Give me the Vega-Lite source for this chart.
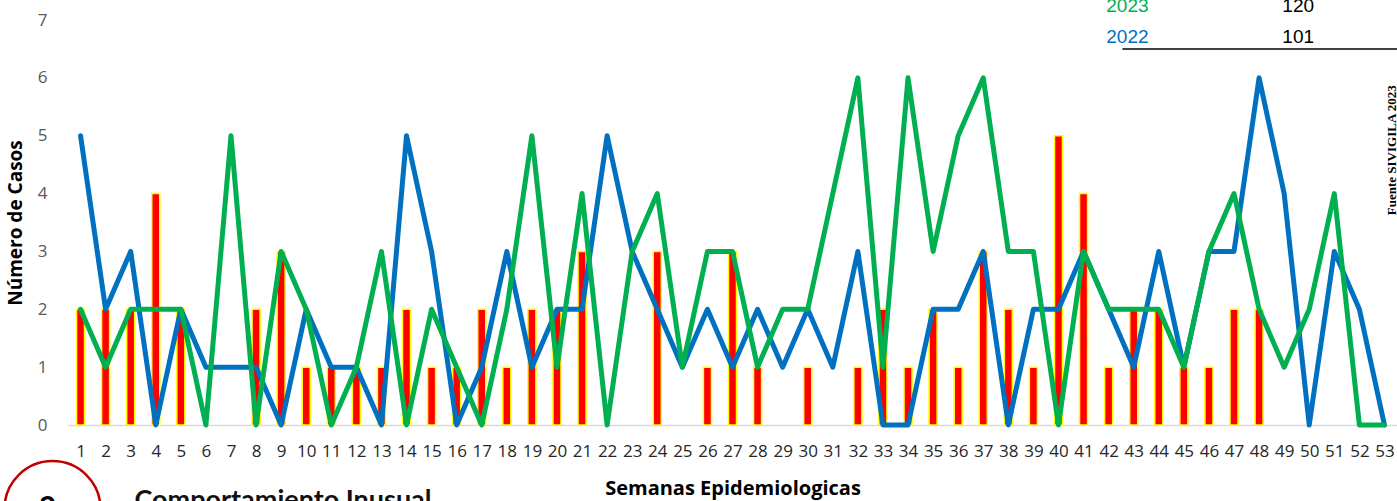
{
  "$schema": "https://vega.github.io/schema/vega-lite/v6.json",
  "autosize": "none",
  "width": 1329,
  "height": 405,
  "padding": {"left": 68, "top": 20, "right": 0, "bottom": 76},
  "background": "white",
  "config": {
    "view": {"stroke": null},
    "axisY": {
      "grid": false,
      "ticks": false,
      "domain": false,
      "labelFont": "Open Sans",
      "labelFontSize": 17,
      "labelColor": "#595959",
      "labelPadding": 21,
      "titleFont": "Open Sans",
      "titleFontSize": 19,
      "titleFontWeight": "bold",
      "titleColor": "#000000",
      "titlePadding": 12
    }
  },
  "datasets": {
    "semanas": [
      {"semana": 1, "c2024": 2, "c2023": 2, "c2022": 5},
      {"semana": 2, "c2024": 2, "c2023": 1, "c2022": 2},
      {"semana": 3, "c2024": 2, "c2023": 2, "c2022": 3},
      {"semana": 4, "c2024": 4, "c2023": 2, "c2022": 0},
      {"semana": 5, "c2024": 2, "c2023": 2, "c2022": 2},
      {"semana": 6, "c2024": 0, "c2023": 0, "c2022": 1},
      {"semana": 7, "c2024": 0, "c2023": 5, "c2022": 1},
      {"semana": 8, "c2024": 2, "c2023": 0, "c2022": 1},
      {"semana": 9, "c2024": 3, "c2023": 3, "c2022": 0},
      {"semana": 10, "c2024": 1, "c2023": 2, "c2022": 2},
      {"semana": 11, "c2024": 1, "c2023": 0, "c2022": 1},
      {"semana": 12, "c2024": 1, "c2023": 1, "c2022": 1},
      {"semana": 13, "c2024": 1, "c2023": 3, "c2022": 0},
      {"semana": 14, "c2024": 2, "c2023": 0, "c2022": 5},
      {"semana": 15, "c2024": 1, "c2023": 2, "c2022": 3},
      {"semana": 16, "c2024": 1, "c2023": 1, "c2022": 0},
      {"semana": 17, "c2024": 2, "c2023": 0, "c2022": 1},
      {"semana": 18, "c2024": 1, "c2023": 2, "c2022": 3},
      {"semana": 19, "c2024": 2, "c2023": 5, "c2022": 1},
      {"semana": 20, "c2024": 2, "c2023": 1, "c2022": 2},
      {"semana": 21, "c2024": 3, "c2023": 4, "c2022": 2},
      {"semana": 22, "c2024": 0, "c2023": 0, "c2022": 5},
      {"semana": 23, "c2024": 0, "c2023": 3, "c2022": 3},
      {"semana": 24, "c2024": 3, "c2023": 4, "c2022": 2},
      {"semana": 25, "c2024": 0, "c2023": 1, "c2022": 1},
      {"semana": 26, "c2024": 1, "c2023": 3, "c2022": 2},
      {"semana": 27, "c2024": 3, "c2023": 3, "c2022": 1},
      {"semana": 28, "c2024": 1, "c2023": 1, "c2022": 2},
      {"semana": 29, "c2024": 0, "c2023": 2, "c2022": 1},
      {"semana": 30, "c2024": 1, "c2023": 2, "c2022": 2},
      {"semana": 31, "c2024": 0, "c2023": 4, "c2022": 1},
      {"semana": 32, "c2024": 1, "c2023": 6, "c2022": 3},
      {"semana": 33, "c2024": 2, "c2023": 1, "c2022": 0},
      {"semana": 34, "c2024": 1, "c2023": 6, "c2022": 0},
      {"semana": 35, "c2024": 2, "c2023": 3, "c2022": 2},
      {"semana": 36, "c2024": 1, "c2023": 5, "c2022": 2},
      {"semana": 37, "c2024": 3, "c2023": 6, "c2022": 3},
      {"semana": 38, "c2024": 2, "c2023": 3, "c2022": 0},
      {"semana": 39, "c2024": 1, "c2023": 3, "c2022": 2},
      {"semana": 40, "c2024": 5, "c2023": 0, "c2022": 2},
      {"semana": 41, "c2024": 4, "c2023": 3, "c2022": 3},
      {"semana": 42, "c2024": 1, "c2023": 2, "c2022": 2},
      {"semana": 43, "c2024": 2, "c2023": 2, "c2022": 1},
      {"semana": 44, "c2024": 2, "c2023": 2, "c2022": 3},
      {"semana": 45, "c2024": 1, "c2023": 1, "c2022": 1},
      {"semana": 46, "c2024": 1, "c2023": 3, "c2022": 3},
      {"semana": 47, "c2024": 2, "c2023": 4, "c2022": 3},
      {"semana": 48, "c2024": 2, "c2023": 2, "c2022": 6},
      {"semana": 49, "c2024": null, "c2023": 1, "c2022": 4},
      {"semana": 50, "c2024": null, "c2023": 2, "c2022": 0},
      {"semana": 51, "c2024": null, "c2023": 4, "c2022": 3},
      {"semana": 52, "c2024": null, "c2023": 0, "c2022": 2},
      {"semana": 53, "c2024": null, "c2023": 0, "c2022": 0}
    ],
    "tabla": [
      {"t": "2023", "col": 42.75, "row": 7.14, "c": "#00b050", "al": "left"},
      {"t": "2022", "col": 42.75, "row": 6.61, "c": "#0070c0", "al": "left"},
      {"t": "120", "col": 49.56, "row": 7.14, "c": "#000000", "al": "right"},
      {"t": "101", "col": 49.56, "row": 6.61, "c": "#000000", "al": "right"},
      {"t": "113", "col": 54.23, "row": 7.14, "c": "#000000", "al": "right"},
      {"t": "92", "col": 54.23, "row": 6.61, "c": "#000000", "al": "right"}
    ],
    "linea": [{"xa": 42.55, "xb": 54, "yv": 6.5}],
    "fuente": [{"t": "Fuente SIVIGILA 2023", "xv": 53.31, "yv": 4.75}],
    "circulo": [{"xv": -0.118, "yv": -1.452}],
    "numero": [{"t": "2", "xv": -0.317, "yv": -1.607}],
    "comp": [{"t": "Comportamiento Inusual", "xv": 3.15, "yv": -1.45}]
  },
  "encoding": {
    "x": {
      "field": "semana",
      "type": "quantitative",
      "scale": {"domain": [0.5, 53.5], "nice": false, "zero": false, "padding": 0},
      "axis": {
        "title": "Semanas Epidemiologicas",
        "values": [1,2,3,4,5,6,7,8,9,10,11,12,13,14,15,16,17,18,19,20,21,22,23,24,25,26,27,28,29,30,31,32,33,34,35,36,37,38,39,40,41,42,43,44,45,46,47,48,49,50,51,52,53],
        "format": "d",
        "grid": false,
        "ticks": false,
        "domain": true,
        "domainColor": "#d9d9d9",
        "domainWidth": 1.5,
        "labelFont": "Open Sans",
        "labelFontSize": 17,
        "labelColor": "#262626",
        "labelPadding": 18,
        "labelOverlap": false,
        "labelFlush": false,
        "labelBound": false,
        "titleFont": "Open Sans",
        "titleFontSize": 20,
        "titleFontWeight": "bold",
        "titleColor": "#000000",
        "titlePadding": 19
      }
    }
  },
  "layer": [
    {
      "data": {"name": "semanas"},
      "transform": [{"filter": "datum.c2024 > 0"}],
      "mark": {"type": "bar", "size": 8, "color": "#ff0000", "stroke": "#ffff00", "strokeWidth": 1.5},
      "encoding": {
        "y": {
          "field": "c2024",
          "type": "quantitative",
          "scale": {"domain": [0, 7], "nice": false},
          "axis": {
            "title": "Número de Casos",
            "values": [0,1,2,3,4,5,6,7],
            "format": "d"
          }
        }
      }
    },
    {
      "data": {"name": "semanas"},
      "mark": {"type": "line", "color": "#0070c0", "strokeWidth": 5, "strokeCap": "round", "strokeJoin": "round"},
      "encoding": {"y": {"field": "c2022", "type": "quantitative"}}
    },
    {
      "data": {"name": "semanas"},
      "mark": {"type": "line", "color": "#00b050", "strokeWidth": 5, "strokeCap": "round", "strokeJoin": "round"},
      "encoding": {"y": {"field": "c2023", "type": "quantitative"}}
    },
    {
      "data": {"name": "linea"},
      "mark": {"type": "rule", "color": "#000000", "strokeWidth": 1.5},
      "encoding": {
        "x": {"field": "xa", "type": "quantitative"},
        "x2": {"field": "xb"},
        "y": {"field": "yv", "type": "quantitative"}
      }
    },
    {
      "data": {"name": "tabla"},
      "mark": {"type": "text", "baseline": "alphabetic", "font": "Liberation Sans", "fontSize": 19},
      "encoding": {
        "x": {"field": "col", "type": "quantitative"},
        "y": {"field": "row", "type": "quantitative"},
        "text": {"field": "t"},
        "align": {"field": "al"},
        "color": {"field": "c", "type": "nominal", "scale": null}
      }
    },
    {
      "data": {"name": "fuente"},
      "mark": {"type": "text", "angle": 270, "align": "center", "baseline": "middle", "font": "Liberation Serif", "fontSize": 13, "fontWeight": "bold", "color": "#000000"},
      "encoding": {
        "x": {"field": "xv", "type": "quantitative"},
        "y": {"field": "yv", "type": "quantitative"},
        "text": {"field": "t"}
      }
    },
    {
      "data": {"name": "circulo"},
      "mark": {"type": "point", "shape": "circle", "size": 9216, "filled": false, "stroke": "#c00000", "strokeWidth": 2.5, "fill": "white", "fillOpacity": 1, "opacity": 1},
      "encoding": {
        "x": {"field": "xv", "type": "quantitative"},
        "y": {"field": "yv", "type": "quantitative"}
      }
    },
    {
      "data": {"name": "numero"},
      "mark": {"type": "text", "align": "center", "baseline": "alphabetic", "font": "Lato", "fontSize": 30, "fontWeight": "bold", "color": "#000000"},
      "encoding": {
        "x": {"field": "xv", "type": "quantitative"},
        "y": {"field": "yv", "type": "quantitative"},
        "text": {"field": "t"}
      }
    },
    {
      "data": {"name": "comp"},
      "mark": {"type": "text", "align": "left", "baseline": "alphabetic", "font": "Lato", "fontSize": 27, "fontWeight": "bold", "color": "#111111"},
      "encoding": {
        "x": {"field": "xv", "type": "quantitative"},
        "y": {"field": "yv", "type": "quantitative"},
        "text": {"field": "t"}
      }
    }
  ]
}
